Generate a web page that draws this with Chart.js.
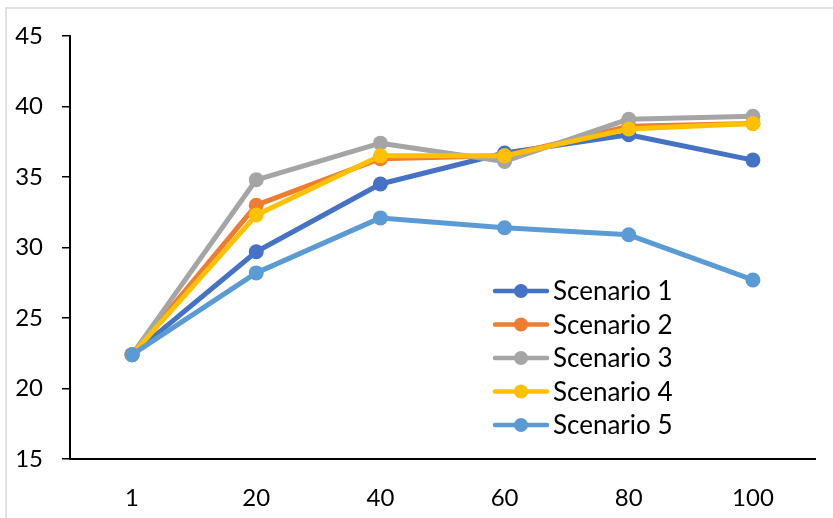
<!DOCTYPE html>
<html>
<head>
<meta charset="utf-8">
<script src="https://cdn.jsdelivr.net/npm/chart.js@4.4.1/dist/chart.umd.min.js"></script>
<style>
  html, body { margin: 0; padding: 0; background: #fff; }
  #wrap { position: relative; width: 833px; height: 518px; }
</style>
</head>
<body>
<div id="wrap"><canvas id="lineChart"></canvas></div>
<script>
// data
const categories = ["1", "20", "40", "60", "80", "100"];
const scenario1 = [22.4, 29.7, 34.5, 36.7, 38.0, 36.2];
const scenario2 = [22.4, 33.0, 36.3, 36.5, 38.6, 38.8];
const scenario3 = [22.4, 34.8, 37.4, 36.1, 39.1, 39.3];
const scenario4 = [22.4, 32.3, 36.5, 36.5, 38.4, 38.8];
const scenario5 = [22.4, 28.2, 32.1, 31.4, 30.9, 27.7];
const seriesNames = ["Scenario 1", "Scenario 2", "Scenario 3", "Scenario 4", "Scenario 5"];
const seriesColors = ["#4472C4", "#ED7D31", "#A5A5A5", "#FFC000", "#5B9BD5"];
const yTicks = [15, 20, 25, 30, 35, 40, 45];

const FONT = "Lato";
const allSeries = [scenario1, scenario2, scenario3, scenario4, scenario5];

// thin grey frame like the exported picture
const framePlugin = {
  id: "frame",
  beforeDraw(chart) {
    const ctx = chart.ctx;
    ctx.save();
    ctx.strokeStyle = "#d9d9d9";
    ctx.lineWidth = 1.5;
    ctx.beginPath();
    ctx.moveTo(6, chart.height + 5);
    ctx.lineTo(6, 8);
    ctx.lineTo(chart.width + 5, 8);
    ctx.stroke();
    ctx.restore();
  },
};

// legend inside the plot, line + marker, as excel draws it
const insideLegend = {
  id: "insideLegend",
  afterDraw(chart) {
    const ctx = chart.ctx;
    const x0 = 493, y0 = 291, rowH = 33.5, lineLen = 56;
    ctx.save();
    chart.data.datasets.forEach((ds, i) => {
      const y = y0 + i * rowH;
      ctx.strokeStyle = ds.borderColor;
      ctx.lineWidth = 4.5;
      ctx.lineCap = "round";
      ctx.beginPath();
      ctx.moveTo(x0 + 2, y);
      ctx.lineTo(x0 + lineLen - 2, y);
      ctx.stroke();
      ctx.fillStyle = ds.borderColor;
      ctx.beginPath();
      ctx.arc(x0 + lineLen / 2, y, 7, 0, Math.PI * 2);
      ctx.fill();
      ctx.fillStyle = "#000";
      ctx.font = "26px " + FONT;
      ctx.textBaseline = "middle";
      ctx.textAlign = "left";
      ctx.fillText(ds.label, x0 + lineLen + 4, y + 1);
    });
    ctx.restore();
  },
};

new Chart(document.getElementById("lineChart"), {
  type: "line",
  data: {
    labels: categories,
    datasets: allSeries.map((vals, i) => ({
      label: seriesNames[i],
      data: vals,
      borderColor: seriesColors[i],
      backgroundColor: seriesColors[i],
      borderWidth: 5,
      pointRadius: 7.5,
      pointHoverRadius: 7.5,
      pointBorderWidth: 0,
      borderCapStyle: "round",
      borderJoinStyle: "round",
      tension: 0,
      order: allSeries.length - i, // later series on top
    })),
  },
  options: {
    responsive: true,
    maintainAspectRatio: false,
    animation: false,
    layout: { padding: { top: 36, right: 18, left: 0, bottom: 0 } },
    plugins: {
      legend: { display: false },
      tooltip: { enabled: false },
    },
    scales: {
      x: {
        offset: true,
        grid: { display: false, drawTicks: false },
        border: { display: true, color: "#000", width: 2 },
        ticks: { color: "#000", font: { family: FONT, size: 24 }, padding: 25 },
        afterFit(scale) { scale.height = 59; },
      },
      y: {
        min: 15,
        max: 45,
        afterBuildTicks(scale) { scale.ticks = yTicks.map(v => ({ value: v })); },
        grid: { display: true, drawOnChartArea: false, drawTicks: true, tickLength: 8, color: "#000", lineWidth: 1.5 },
        border: { display: true, color: "#000", width: 2 },
        ticks: { color: "#000", font: { family: FONT, size: 24 }, padding: 19 },
        afterFit(scale) { scale.width = 70; },
      },
    },
  },
  plugins: [framePlugin, insideLegend],
});
</script>
</body>
</html>
